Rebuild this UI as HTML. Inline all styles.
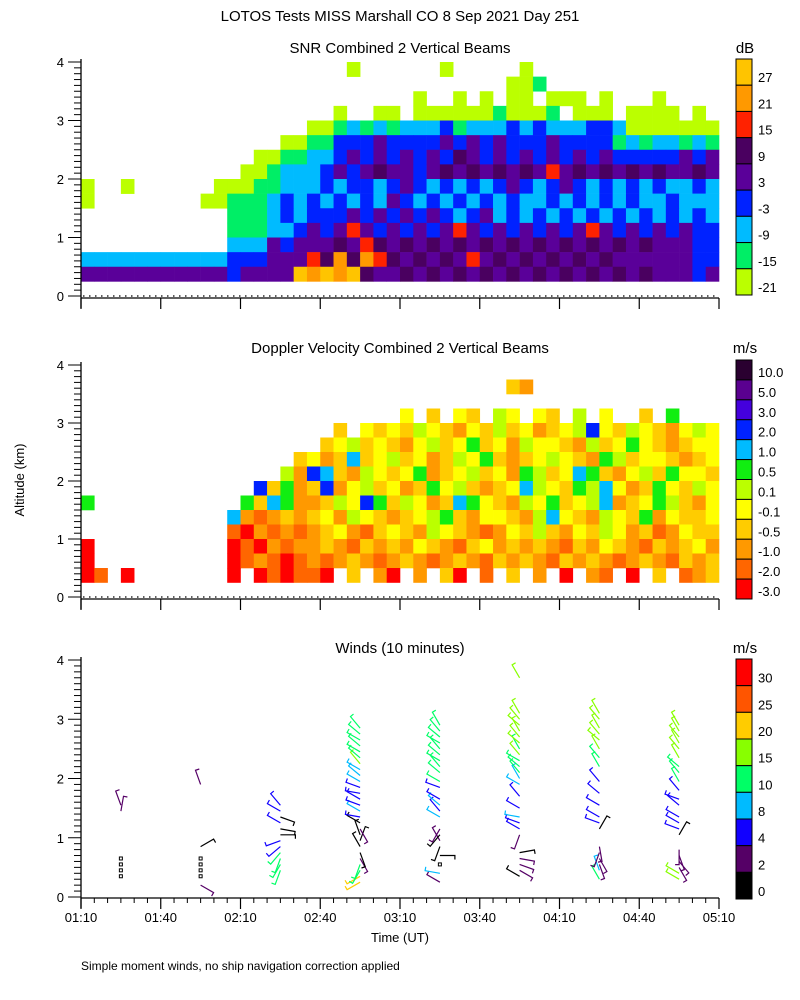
<!DOCTYPE html>
<html><head><meta charset="utf-8"><style>
html,body{margin:0;padding:0;background:#fff;}
svg{display:block;font-family:"Liberation Sans",sans-serif;}
text{fill:#000;}
</style></head><body>
<svg id="fig" width="800" height="1000" viewBox="0 0 800 1000">
<text x="400" y="21" font-size="15" text-anchor="middle">LOTOS Tests MISS Marshall CO   8 Sep 2021 Day 251</text>
<text x="400" y="53" font-size="15" text-anchor="middle">SNR Combined 2 Vertical Beams</text>
<text x="400" y="353" font-size="15" text-anchor="middle">Doppler Velocity Combined 2 Vertical Beams</text>
<text x="400" y="653" font-size="15" text-anchor="middle">Winds (10 minutes)</text>
<text x="24" y="480" font-size="13" text-anchor="middle" transform="rotate(-90 24 480)">Altitude (km)</text>
<text x="400" y="942" font-size="13" text-anchor="middle">Time (UT)</text>
<text x="81" y="970" font-size="12">Simple moment winds, no ship navigation correction applied</text>
<text x="745" y="53" font-size="15" text-anchor="middle">dB</text>
<text x="745" y="353" font-size="15" text-anchor="middle">m/s</text>
<text x="745" y="653" font-size="15" text-anchor="middle">m/s</text>
<g id="layer"></g>
</svg>
<script>
// ---- data ----
const snrLevels = ["-21","-15","-9","-3","3","9","15","21","27"];
const snrColors = ["#bbff00","#00ee66","#00bbff","#0022ff","#5a0099","#4a0060","#ff2200","#ff9900","#ffc400"];
// rows top (3.75-4.0 km) to bottom (0.25-0.5 km); 48 columns of 5 min from 01:10; digit = class (0 none)
const snrRows = [
"000000000000000000001000000100000100000000000000",
"000000000000000000000000000000001120000000000000",
"000000000000000000000000010010101101110100010000",
"000000000000000000010011011111121112011101111010",
"000000000000000001123232333423334343334431111111",
"000000000000000112244454444545454445444423233232",
"000000000000011223345454545465454545454544444545",
"000000000000112333454565545656565657565656565565",
"100100000011122333434434543434345434543434343343",
"100000000112223434343435434343434334343434334333",
"000000000002223434445454545434534343434343434343",
"000000000002223345457545454575454545457545454544",
"000000000003335455565765656565656565656565655544",
"333333333334445557686876565657565656565655555544",
"555555555554555598989655656565656565656565655545"
];
const dopLevels = ["-3.0","-2.0","-1.0","-0.5","-0.1","0.1","0.5","1.0","2.0","3.0","5.0","10.0"];
const dopColors = ["#ff0000","#ff6600","#ff9900","#ffcc00","#ffff00","#bbff00","#11ee11","#00bbff","#0022ff","#4400dd","#5a0090","#2a0030"];
// letters a..l = class (a = <-3 ... l = >10), 0 = none; 48 cols
const dopRows = [
"00000000000"+"000000"+"000000"+"000000000000"+"0000000000000",
"00000000000"+"000000"+"000000"+"000000000dc0"+"0000000000000",
"00000000000"+"000000"+"000000"+"000000000000"+"0000000000000",
"00000000000"+"000000"+"000000"+"0e0d0ed0fe0e"+"d0f0e00d0g000",
"00000000000"+"000000"+"00d0ed"+"edfedcedfdec"+"defiedfedcefe",
"00000000000"+"000000"+"0defde"+"dcefdegdecfe"+"edcfdegedcdee",
"00000000000"+"00000d"+"ecdhde"+"fdecdfegdcde"+"fedcgfdeedcde",
"00000000000"+"0000fc"+"ihdcfe"+"degcdefdecgf"+"dehgdcefdgeed",
"00000000000"+"00idgc"+"dicefd"+"ecdgefdcdehf"+"edgfhecdgedfe",
"g0000000000"+"0gdhgc"+"cdfeig"+"dfecdhgedcfe"+"gdefhcdegfdce",
"00000000000"+"hcbcdc"+"decfed"+"cdefgdceedcf"+"hedcfedgcedde",
"00000000000"+"bacbcb"+"cdecbd"+"edcfedcbcedf"+"dcedfecdbcedd",
"a0000000000"+"abacbc"+"cdcbdc"+"dcedcbdecdcd"+"cbdcedcbdcdec",
"a0000000000"+"abcbab"+"cbcdcb"+"cdcbcdcbdcdc"+"bdcdcbcdcbdcd",
"ab0a0000000"+"a0abab"+"ba0d0c"+"a0c0da0b0d0c"+"0a0cb0a0d0bcd"
];
const windLevels = ["0","2","4","8","10","15","20","25","30"];
const windColors = ["#000000","#550066","#1100ff","#00bbff","#00ff66","#88ff00","#ffcc00","#ff5500","#ff0000"];
const xTickLabels = ["01:10","01:40","02:10","02:40","03:10","03:40","04:10","04:40","05:10"];
const yTickLabels = ["0","1","2","3","4"];
const windTimes = [15,45,75,105,135,165,195,225]; // minutes after 01:10
const windH = [
[0.35,0.45,0.55,0.65,1.45,1.55],
[0.2,0.35,0.45,0.55,0.65,0.85,1.9],
[0.45,0.55,0.65,0.75,0.85,0.95,1.05,1.15,1.25,1.35,1.45,1.55],
[0.25,0.35,0.45,0.55,0.65,0.75,0.85,0.95,1.05,1.15,1.25,1.35,1.45,1.55,1.65,1.75,1.85,1.95,2.05,2.15,2.25,2.35,2.45,2.55,2.65,2.75,2.85],
[0.25,0.4,0.55,0.7,0.85,0.95,1.05,1.15,1.35,1.45,1.55,1.65,1.85,1.95,2.1,2.2,2.3,2.4,2.5,2.6,2.7,2.8,2.9],
[0.35,0.45,0.55,0.65,0.75,1.05,1.15,1.25,1.35,1.5,1.7,1.9,2.0,2.1,2.2,2.3,2.4,2.5,2.6,2.7,2.8,2.9,3.0,3.1,3.7],
[0.3,0.45,0.55,0.65,0.75,0.85,1.15,1.25,1.35,1.55,1.75,1.95,2.2,2.35,2.5,2.65,2.75,2.85,3.0,3.1],
[0.3,0.4,0.5,0.6,0.7,0.8,1.05,1.15,1.25,1.35,1.55,1.65,1.8,1.95,2.1,2.2,2.35,2.5,2.6,2.7,2.8,2.9]
];
const windS = [
[0,0,0,0,3,3],
[3,0,0,0,0,1,3],
[12,12,12,10,6,5,1,1,5,1,5,5],
[20,20,12,12,3,1,1,1,1,2,1,5,8,5,5,5,5,8,8,8,15,12,12,12,12,12,12],
[3,8,0,1,1,3,1,3,8,5,8,5,5,12,12,12,12,12,12,12,12,12,12],
[1,3,3,3,1,3,5,5,8,5,5,8,8,12,12,12,15,12,15,15,15,15,15,15,15],
[12,8,3,3,3,3,1,5,5,5,5,5,12,12,15,15,15,15,15,15],
[15,15,3,3,3,3,1,5,5,5,5,5,5,12,12,12,15,15,15,15,15,15]
];
const windD = [
[0,0,0,0,10,340],
[120,0,0,0,0,60,340],
[200,210,200,220,230,250,90,100,300,110,300,320],
[240,240,210,200,150,160,330,20,340,150,300,280,300,290,300,280,290,300,310,300,320,310,300,310,300,310,320],
[300,280,0,90,200,330,220,210,300,320,310,300,290,300,310,320,300,310,320,300,310,320,330],
[300,120,110,100,80,200,300,290,280,300,320,300,330,320,310,300,320,330,310,320,330,310,320,330,330],
[330,340,160,150,200,170,30,290,300,300,310,320,330,320,330,310,320,330,320,330],
[300,300,150,140,160,180,30,290,300,300,310,290,320,330,320,310,330,320,330,320,330,330]
];
// ---- helpers ----
const NS="http://www.w3.org/2000/svg";
const layer=document.getElementById('layer');
function mk(tag,attrs,parent){const e=document.createElementNS(NS,tag);for(const k in attrs)e.setAttribute(k,attrs[k]);(parent||layer).appendChild(e);return e;}
const X0=81,X1=719;
function xs(min){return X0+(X1-X0)*min/240;}
const panels=[{top:62,bot:296,axis:298,minorX:false},{top:365,bot:597,axis:599,minorX:false},{top:660,bot:897,axis:898,minorX:true}];
function ys(p,km){return p.bot-(p.bot-p.top)*km/4;}

function drawGrid(p,rows,colors,name,isLetter){
  const g=mk('g',{});
  
  
  rows.forEach((row,ri)=>{
    const kmTop=4-0.25*ri, kmBot=kmTop-0.25;
    for(let c=0;c<row.length&&c<48;c++){
      const ch=row[c]; if(ch==='0')continue;
      const idx=isLetter?(ch.charCodeAt(0)-97):(parseInt(ch)-1);
      if(idx<0||idx>=colors.length)continue;
      const x=xs(c*5), w=xs((c+1)*5)-x;
      const r=mk('rect',{x:x.toFixed(2),y:ys(p,kmTop).toFixed(2),width:(w+0.3).toFixed(2),height:(ys(p,kmBot)-ys(p,kmTop)+0.3).toFixed(2),fill:colors[idx]},g);
      
      
    }
  });
}
drawGrid(panels[0],snrRows,snrColors,'snr-heatmap',false);
drawGrid(panels[1],dopRows,dopColors,'doppler-heatmap',true);

// winds
const wg=mk('g',{});


function windColor(s){let i=0;for(let k=0;k<windLevels.length;k++){if(s>=parseFloat(windLevels[k]))i=k;}return windColors[i];}
windTimes.forEach((t,pi)=>{
  windH[pi].forEach((h,j)=>{
    const s=windS[pi][j], d=windD[pi][j];
    const bx=xs(t), by=ys(panels[2],h);
    if(s===0){
      const q=mk('rect',{x:bx-1.5,y:by-1.5,width:3,height:3,fill:'none',stroke:'#000','stroke-width':1},wg);
      
      
      return;
    }
    const a=d*Math.PI/180, L=15;
    const ex=bx+Math.sin(a)*L, ey=by-Math.cos(a)*L;
    const col=windColor(s);
    const b=(a+Math.PI/2), bl=4;
    const fx=ex+Math.sin(b)*bl, fy=ey-Math.cos(b)*bl;
    const pl=mk('polyline',{points:`${bx.toFixed(1)},${by.toFixed(1)} ${ex.toFixed(1)},${ey.toFixed(1)} ${fx.toFixed(1)},${fy.toFixed(1)}`,fill:'none',stroke:col,'stroke-width':1.2},wg);
    
    
  });
});

// axes
panels.forEach((p,pi)=>{
  const ag=mk('g',{});
  
  
  mk('line',{x1:X0,y1:p.top-3,x2:X0,y2:p.axis+10,stroke:'#000','stroke-width':1.3},ag);
  mk('line',{x1:X0,y1:p.axis,x2:X1,y2:p.axis,stroke:'#000','stroke-width':1.3},ag);
  for(let k=0;k<=40;k++){
    const y=ys(p,k/10), major=k%10===0;
    mk('line',{x1:major?X0-13:X0-7,y1:y,x2:X0,y2:y,stroke:'#000','stroke-width':1},ag);
  }
  yTickLabels.forEach((lab,i)=>{
    const t=mk('text',{x:X0-17,y:ys(p,i)+5,'font-size':13,'text-anchor':'end'},ag);t.textContent=lab;
    
    
  });
  xTickLabels.forEach((lab,i)=>{
    const x=xs(i*30);
    mk('line',{x1:x,y1:p.axis,x2:x,y2:p.axis+11,stroke:'#000','stroke-width':1.2},ag);
    if(pi===2){
      const t=mk('text',{x:x,y:p.axis+24,'font-size':13,'text-anchor':'middle'},ag);t.textContent=lab;
      
      
    }
  });
  if(p.minorX){
    for(let m=5;m<240;m+=5){ if(m%30===0)continue; const x=xs(m);
      mk('line',{x1:x,y1:p.axis,x2:x,y2:p.axis+5,stroke:'#000','stroke-width':1},ag);}
  } else {
    mk('line',{x1:X0+2,y1:p.axis-2,x2:X1,y2:p.axis-2,stroke:'#000','stroke-width':1.2,'stroke-dasharray':'1.5,4.5'},ag);
  }
});

// colorbars
function colorbar(top,bot,colors,levels,name){
  const g=mk('g',{});
  
  
  const n=colors.length, h=(bot-top)/n;
  for(let i=0;i<n;i++){
    const ci=n-1-i;
    const r=mk('rect',{x:736,y:(top+i*h).toFixed(2),width:16,height:h.toFixed(2),fill:colors[ci],stroke:'#000','stroke-width':1},g);
    
    
    const ly = top+(i+1)*h-3;
    const t=mk('text',{x:758,y:ly.toFixed(1),'font-size':13},g);t.textContent=levels[ci];
    
    
  }
}
colorbar(59,295,snrColors,snrLevels,'snr-colorbar');
colorbar(360,599,dopColors,dopLevels,'doppler-colorbar');
colorbar(659,899,windColors,windLevels,'winds-colorbar');
</script>
</body></html>
